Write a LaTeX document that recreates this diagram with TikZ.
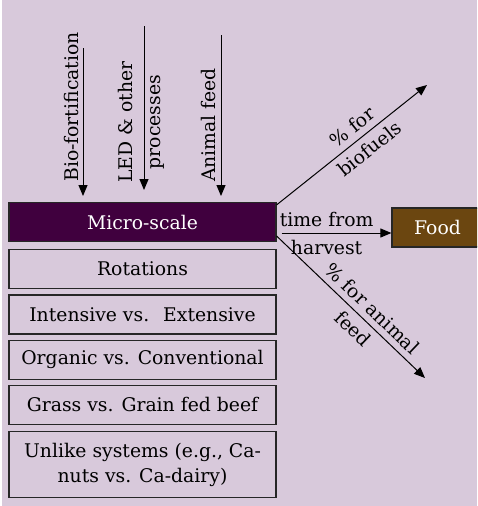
\documentclass[tikz,border=0pt]{standalone}
\usepackage{fontspec}
\setmainfont{DejaVu Serif}
\usetikzlibrary{positioning,arrows.meta}
\definecolor{bgpurple}{RGB}{216,201,219}
\definecolor{darkplum}{RGB}{64,0,62}
\definecolor{foodbrown}{RGB}{107,70,16}
\tikzset{
  scalebox/.style={draw=black!85,line width=1.2pt,minimum width=267pt,minimum height=39pt,inner sep=0pt,align=center,font=\fontsize{18.8}{25}\selectfont},
  flow/.style={-{Triangle[length=11pt,width=9pt]},line width=1pt},
  vlabel/.style={rotate=90,align=center,inner sep=0pt,font=\fontsize{18.8}{28}\selectfont},
  slabel/.style={align=center,inner sep=0pt,font=\fontsize{18.8}{28}\selectfont},
}
\begin{document}
\begin{tikzpicture}[x=1pt,y=-1pt]
  \fill[white] (0,0) rectangle (477,506);
  \fill[bgpurple] (2,0) rectangle (477,506);
  \clip (0,0) rectangle (477,506);
  % stack of scales
  \node[scalebox,fill=darkplum,text=white] (micro) at (142.5,222) {Micro-scale};
  \node[scalebox,below=7pt of micro] (rot) {Rotations};
  \node[scalebox,below=5pt of rot] (intens) {Intensive vs.~ Extensive};
  \node[scalebox,below=5pt of intens] (organic) {Organic vs. Conventional};
  \node[scalebox,below=5pt of organic] (grass) {Grass vs. Grain fed beef};
  \node[scalebox,below=6pt of grass,minimum height=66pt] (unlike) {Unlike systems (e.g., Ca-\\nuts vs. Ca-dairy)};
  \node[scalebox,fill=foodbrown,text=white,minimum width=91pt] (food) at (437.5,227.5) {Food};
  % inputs from above
  \node[vlabel] (bioText) at (71,107) {Bio-fortification};
  \node[vlabel] (ledText) at (141,122) {LED \& other\\processes};
  \node[vlabel] (feedText) at (208.5,125) {Animal feed};
  \foreach \name/\x/\top/\bot in {bio/83/48/196,led/144/26/190,feed/221/35/196}{
    \coordinate (\name Top) at (\x,\top);
    \coordinate (\name Bot) at (\x,\bot);
    \draw[flow] (\name Top) -- (\name Bot);
  }
  % outputs
  \coordinate (fuelTip) at (427,85);
  \coordinate (animalTip) at (425,378);
  \coordinate (harvestStart) at ([xshift=5pt,yshift=-11pt]micro.east);
  \draw[flow] ([yshift=-3pt]micro.north east) -- node[slabel,sloped,pos=0.56] {\%~for\\biofuels} (fuelTip);
  \draw[flow] (harvestStart) -- node[slabel,pos=0.41] {time from\\harvest} (food.west |- harvestStart);
  \draw[flow] ([yshift=-14pt]micro.east) -- node[slabel,sloped,pos=0.58] {\%~for animal\\feed} (animalTip);
\end{tikzpicture}
\end{document}
